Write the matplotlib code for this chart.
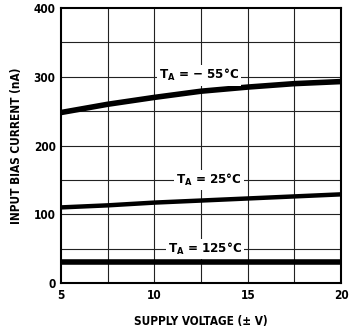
import matplotlib
matplotlib.use("Agg")
import matplotlib.pyplot as plt

voltage = [5, 7.5, 10, 12.5, 15, 17.5, 20]
i_m55 = [248, 260, 270, 279, 285, 290, 293]
i_25 = [110, 113, 117, 120, 123, 126, 129]
i_125 = [30, 30, 30, 30, 30, 30, 30]

series = [
    (i_m55, 4.0, "T$_\\mathregular{A}$ = \u2212 55\u00b0C", 12.4, 302),
    (i_25, 3.2, "T$_\\mathregular{A}$ = 25\u00b0C", 12.9, 150),
    (i_125, 4.0, "T$_\\mathregular{A}$ = 125\u00b0C", 12.7, 50),
]

x_ticks = [5, 10, 15, 20]
y_ticks = [0, 100, 200, 300, 400]

plt.rcParams['font.family'] = ['DejaVu Sans']
plt.rcParams['font.stretch'] = 'condensed'

fig = plt.figure(figsize=(3.55, 3.33), dpi=100)
ax = fig.add_axes([0.172, 0.150, 0.789, 0.826])

ax.set_xlim(5, 20)
ax.set_ylim(0, 400)

# grid
for gx in [7.5, 10, 12.5, 15, 17.5]:
    ax.axvline(gx, color='#222222', lw=0.8, zorder=1)
for gy in [50, 100, 150, 200, 250, 300, 350]:
    ax.axhline(gy, color='#222222', lw=0.8, zorder=1)

for vals, lw, label, lx, ly in series:
    ax.plot(voltage, vals, color='black', lw=lw, solid_capstyle='butt', zorder=3)
    ax.text(lx, ly, label, ha='center', va='center', fontsize=9.5,
            fontweight='bold', fontstretch='condensed', zorder=4,
            bbox=dict(facecolor='white', edgecolor='none', pad=1.5))

ax.set_xticks(x_ticks)
ax.set_xticklabels([str(v) for v in x_ticks])
ax.set_yticks(y_ticks)
ax.set_yticklabels([str(v) for v in y_ticks])
ax.tick_params(length=0, labelsize=8.5, pad=4)
for lab in ax.get_xticklabels() + ax.get_yticklabels():
    lab.set_fontweight('bold')

for s in ax.spines.values():
    s.set_linewidth(1.5)
    s.set_color('black')

ax.set_xlabel("SUPPLY VOLTAGE (\u00b1 V)", fontsize=8.5, fontweight='bold', labelpad=10)
ax.set_ylabel("INPUT BIAS CURRENT (nA)", fontsize=8.5, fontweight='bold', labelpad=8)

fig.savefig("out.png", dpi=100)
